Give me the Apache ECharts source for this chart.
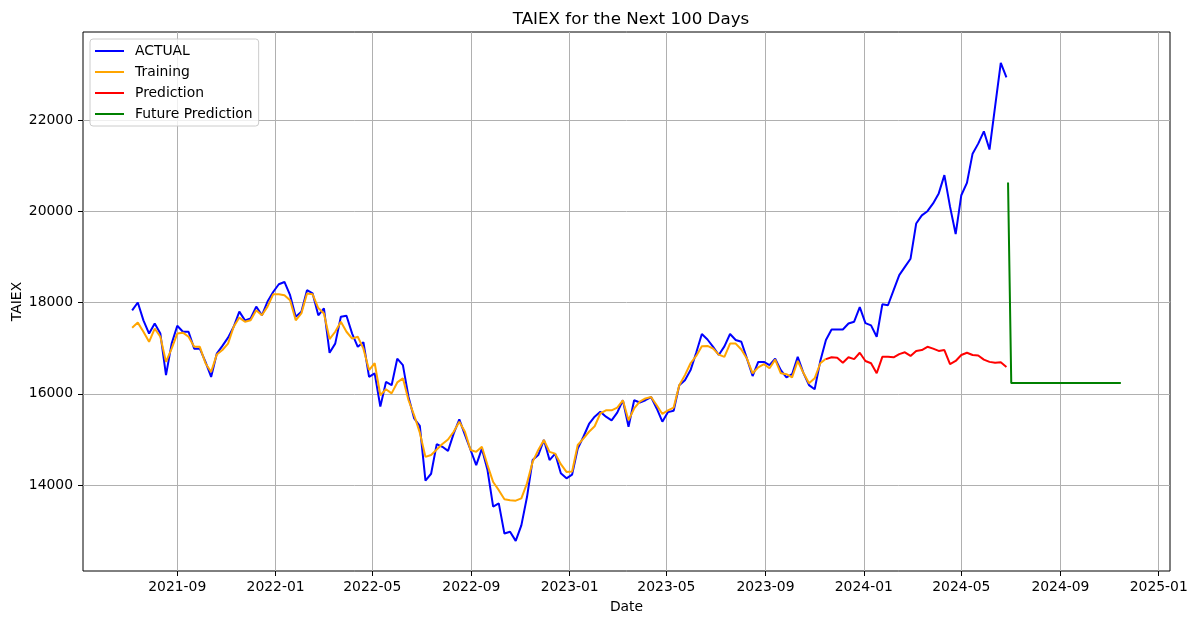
<!DOCTYPE html>
<html><head><meta charset="utf-8">
<script src="https://cdn.jsdelivr.net/npm/echarts@6/dist/echarts.min.js"></script>
<style>html,body{margin:0;padding:0;background:#fff}#c{width:1196px;height:624px}</style>
</head><body><div id="c"></div>
<script>
const dates = [
'2021-07-07','2021-07-14','2021-07-21','2021-07-28','2021-08-04','2021-08-11','2021-08-18','2021-08-25','2021-09-01','2021-09-08',
'2021-09-15','2021-09-22','2021-09-29','2021-10-06','2021-10-13','2021-10-20','2021-10-27','2021-11-03','2021-11-10','2021-11-17',
'2021-11-24','2021-12-01','2021-12-08','2021-12-15','2021-12-22','2021-12-29','2022-01-05','2022-01-12','2022-01-19','2022-01-26',
'2022-02-02','2022-02-09','2022-02-16','2022-02-23','2022-03-02','2022-03-09','2022-03-16','2022-03-23','2022-03-30','2022-04-06',
'2022-04-13','2022-04-20','2022-04-27','2022-05-04','2022-05-11','2022-05-18','2022-05-25','2022-06-01','2022-06-08','2022-06-15',
'2022-06-22','2022-06-29','2022-07-06','2022-07-13','2022-07-20','2022-07-27','2022-08-03','2022-08-10','2022-08-17','2022-08-24',
'2022-08-31','2022-09-07','2022-09-14','2022-09-21','2022-09-28','2022-10-05','2022-10-12','2022-10-19','2022-10-26','2022-11-02',
'2022-11-09','2022-11-16','2022-11-23','2022-11-30','2022-12-07','2022-12-14','2022-12-21','2022-12-28','2023-01-04','2023-01-11',
'2023-01-18','2023-01-25','2023-02-01','2023-02-08','2023-02-15','2023-02-22','2023-03-01','2023-03-08','2023-03-15','2023-03-22',
'2023-03-29','2023-04-05','2023-04-12','2023-04-19','2023-04-26','2023-05-03','2023-05-10','2023-05-17','2023-05-24','2023-05-31',
'2023-06-07','2023-06-14','2023-06-21','2023-06-28','2023-07-05','2023-07-12','2023-07-19','2023-07-26','2023-08-02','2023-08-09',
'2023-08-16','2023-08-23','2023-08-30','2023-09-06','2023-09-13','2023-09-20','2023-09-27','2023-10-04','2023-10-11','2023-10-18',
'2023-10-25','2023-11-01','2023-11-08','2023-11-15','2023-11-22','2023-11-29','2023-12-06','2023-12-13','2023-12-20','2023-12-27',
'2024-01-03','2024-01-10','2024-01-17','2024-01-24','2024-01-31','2024-02-07','2024-02-14','2024-02-21','2024-02-28','2024-03-06',
'2024-03-13','2024-03-20','2024-03-27','2024-04-03','2024-04-10','2024-04-17','2024-04-24','2024-05-01','2024-05-08','2024-05-15',
'2024-05-22','2024-05-29','2024-06-05','2024-06-12','2024-06-19','2024-06-26'];

const actual = [
17830,18000,17610,17320,17540,17320,16410,17100,17490,17360,
17360,16990,16990,16700,16370,16880,17050,17230,17470,17800,
17610,17650,17910,17720,18020,18230,18400,18450,18160,17690,
17800,18270,18200,17720,17870,16900,17100,17690,17710,17320,
17030,17130,16370,16450,15720,16260,16190,16770,16630,15930,
15460,15300,14100,14250,14900,14840,14750,15130,15440,15100,
14770,14440,14800,14330,13530,13600,12940,12980,12780,13120,
13740,14550,14660,14990,14550,14690,14260,14150,14230,14800,
15060,15340,15500,15610,15500,15420,15590,15860,15280,15860,
15810,15860,15930,15680,15390,15600,15630,16190,16300,16520,
16900,17310,17190,17030,16850,17040,17310,17180,17140,16770,
16390,16700,16700,16630,16770,16520,16360,16430,16810,16460,
16190,16100,16720,17180,17410,17410,17410,17540,17580,17900,
17550,17500,17250,17960,17940,18270,18600,18780,18960,19730,
19910,20000,20170,20390,20790,20100,19500,20350,20620,21260,
21480,21750,21350,22300,23250,22930];

const training = [
17450,17560,17360,17140,17430,17250,16700,16990,17320,17340,
17250,17030,17030,16670,16480,16860,16960,17100,17470,17670,
17580,17610,17830,17720,17910,18180,18180,18160,18050,17610,
17760,18200,18180,17880,17760,17200,17360,17580,17360,17210,
17250,16990,16520,16670,15970,16100,16010,16250,16340,15860,
15530,15150,14620,14660,14780,14900,15000,15170,15390,15170,
14770,14730,14840,14440,14070,13890,13690,13670,13660,13710,
14040,14510,14770,14990,14730,14690,14460,14290,14300,14880,
15020,15170,15290,15570,15640,15640,15700,15860,15420,15680,
15830,15900,15930,15750,15560,15640,15700,16190,16410,16670,
16830,17040,17050,16990,16860,16810,17100,17100,16970,16770,
16450,16580,16650,16560,16750,16450,16430,16360,16720,16460,
16230,16340,16670,16770];

// prediction starts at the last training date (dates index 123)
const predictionStartIndex = 123;
const prediction = [
16760,16800,16790,16680,16800,16760,16900,16720,16670,16450,
16810,16810,16800,16870,16910,16830,16940,16960,17030,16990,
16940,16960,16650,16720,16850,16900,16850,16840,16750,16700,
16680,16690,16590];

const futureDates = ['2024-06-28','2024-07-02','2024-08-15','2024-10-01','2024-11-15'];
const futurePrediction = [20630,16235,16235,16235,16235];

const xTickLabels = ['2021-09','2022-01','2022-05','2022-09','2023-01','2023-05','2023-09','2024-01','2024-05','2024-09','2025-01'];
const yTicks = [14000,16000,18000,20000,22000];
const seriesNames = ['ACTUAL','Training','Prediction','Future Prediction'];
const seriesColors = ['#0000ff','#ffa500','#ff0000','#008000'];

const FONT = 'DejaVu Sans';
const P = s => { const a = s.split('-').map(Number); return new Date(a[0], a[1] - 1, a[2] || 1).getTime(); };
const xTickVals = xTickLabels.map(s => P(s + '-01'));
const fmtX = v => { const d = new Date(v); return d.getFullYear() + '-' + String(d.getMonth() + 1).padStart(2, '0'); };

const seriesData = [
  dates.map((d, i) => [P(d), actual[i]]),
  training.map((v, i) => [P(dates[i]), v]),
  prediction.map((v, i) => [P(dates[predictionStartIndex + i]), v]),
  futureDates.map((d, i) => [P(d), futurePrediction[i]])
];

const chart = echarts.init(document.getElementById('c'), null, {renderer: 'canvas'});
chart.setOption({
  animation: false,
  backgroundColor: '#ffffff',
  title: {
    text: 'TAIEX for the Next 100 Days', left: 626, top: 6, textAlign: 'center',
    textStyle: {fontFamily: FONT, fontSize: 16.7, fontWeight: 'normal', color: '#000'}
  },
  legend: {
    orient: 'vertical', left: 90, top: 39, padding: [4, 6, 4, 5], itemGap: 5,
    itemWidth: 29, itemHeight: 2, icon: 'rect',
    backgroundColor: 'rgba(255,255,255,0.8)', borderColor: '#cccccc', borderWidth: 1, borderRadius: 3,
    textStyle: {fontFamily: FONT, fontSize: 13.9, color: '#000', lineHeight: 16, padding: [0, 0, 0, 6]},
    data: seriesNames
  },
  grid: {left: 83, right: 26, top: 32, bottom: 53, show: true, borderColor: '#000', borderWidth: 1,
         containLabel: false, outerBoundsMode: 'none'},
  xAxis: {
    type: 'value', min: P('2021-05-07'), max: P('2025-01-15'), scale: true,
    name: 'Date', nameLocation: 'middle', nameGap: 29, nameMoveOverlap: false,
    nameTextStyle: {fontFamily: FONT, fontSize: 13.9, color: '#000'},
    axisLine: {show: false},
    axisTick: {show: true, length: 5, inside: false, customValues: xTickVals, lineStyle: {color: '#000', width: 1}},
    axisLabel: {customValues: xTickVals, formatter: fmtX, margin: 9, fontFamily: FONT, fontSize: 13.9, color: '#000'},
    splitLine: {show: true, lineStyle: {color: '#b0b0b0', width: 1}}
  },
  yAxis: {
    type: 'value', min: 12120, max: 23925,
    name: 'TAIEX', nameLocation: 'middle', nameGap: 59, nameMoveOverlap: false,
    nameTextStyle: {fontFamily: FONT, fontSize: 13.9, color: '#000'},
    axisLine: {show: false},
    axisTick: {show: true, length: 5, inside: false, customValues: yTicks, lineStyle: {color: '#000', width: 1}},
    axisLabel: {customValues: yTicks, formatter: v => String(v), margin: 10, fontFamily: FONT, fontSize: 13.9, color: '#000'},
    splitLine: {show: true, lineStyle: {color: '#b0b0b0', width: 1}}
  },
  series: seriesNames.map((name, k) => ({
    name, type: 'line', data: seriesData[k], showSymbol: false, symbol: 'none',
    lineStyle: {color: seriesColors[k], width: 2}, itemStyle: {color: seriesColors[k]},
    emphasis: {disabled: true}, z: 2 + k
  }))
});
</script></body></html>
